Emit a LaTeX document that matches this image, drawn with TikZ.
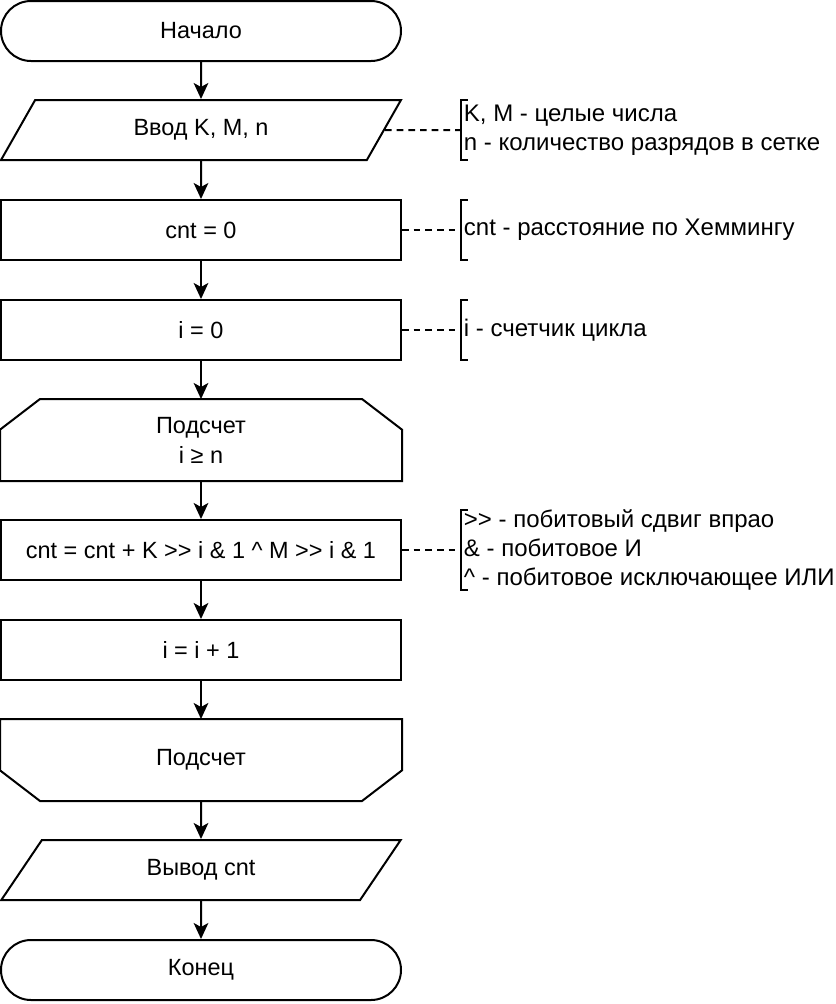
\documentclass[tikz,border=0pt]{standalone}
\usepackage{fontspec}
\setmainfont{Liberation Sans}
\usetikzlibrary{shapes.geometric,arrows.meta}

\tikzset{
	base/.style={draw,line width=1.5pt,minimum width=300pt,minimum height=45pt,inner sep=0pt,align=center,font=\fontsize{17.6}{22.5}\selectfont},
	term/.style={base,rectangle,rounded corners=22.5pt},
	io/.style={base,trapezium,trapezium stretches=true,trapezium left angle=56.31,trapezium right angle=123.69},
	proc/.style={base,rectangle},
	loopbox/.style={base,rectangle,draw=none,minimum height=60pt},
	outline/.style={line width=1.5pt,line join=miter},
	note/.style={anchor=west,inner xsep=2pt,inner ysep=0pt,minimum height=45pt,align=left,font=\fontsize{18}{21.5}\selectfont},
	arr/.style={line width=1.5pt,-{Stealth[length=12pt,width=11pt,inset=3pt]}},
	dline/.style={line width=1.5pt,dash pattern=on 5pt off 3.75pt}
}

\begin{document}
\begin{tikzpicture}[x=0.75pt,y=-0.75pt]
	\useasboundingbox (0,0) rectangle (836,1004);

	\node[term] (start) at (201,31) {Начало};
	\node[io] (input) at (201,130) {Ввод K, M, n};
	\node[proc] (cnt) at (201,230) {cnt = 0};
	\node[proc] (init) at (201,330) {i = 0};
	\node[loopbox] (loopA) at (201,440) {Подсчет\\i ≥ n};
	\node[proc] (body) at (201,550) {cnt = cnt + K >{}> i \& 1 \textasciicircum{} M >{}> i \& 1};
	\node[proc] (inc) at (201,650) {i = i + 1};
	\node[loopbox] (loopB) at (201,760) {Подсчет};
	\node[io] (output) at (201,870) {Вывод cnt};
	\node[term] (stop) at (201,970) {Конец};

	% loop limits
	\draw[outline] ([xshift=30pt]loopA.north west) -- ([xshift=-30pt]loopA.north east) -- ([yshift=-23pt]loopA.north east) -- (loopA.south east) -- (loopA.south west) -- ([yshift=-23pt]loopA.north west) -- cycle;
	\draw[outline] (loopB.north west) -- (loopB.north east) -- ([yshift=23pt]loopB.south east) -- ([xshift=-30pt]loopB.south east) -- ([xshift=30pt]loopB.south west) -- ([yshift=23pt]loopB.south west) -- cycle;

	\draw[arr] (start) -- (input);
	\draw[arr] (input) -- (cnt);
	\draw[arr] (cnt) -- (init);
	\draw[arr] (init) -- (loopA);
	\draw[arr] (loopA) -- (body);
	\draw[arr] (body) -- (inc);
	\draw[arr] (inc) -- (loopB);
	\draw[arr] (loopB) -- (output);
	\draw[arr] (output) -- (stop);

	% comments
	\node[note] (noteIn) at (461,130) {K, M - целые числа\\n - количество разрядов в сетке};
	\node[note] (noteCnt) at (461,230) {cnt - расстояние по Хеммингу};
	\node[note] (noteI) at (461,330) {i - счетчик цикла};
	\node[note,minimum height=60pt] (noteBody) at (461,550) {>{}> - побитовый сдвиг впрао\\\& - побитовое И\\\textasciicircum{} - побитовое исключающее ИЛИ};

	\draw[dline] (input.east) -- (noteIn.west);
	\draw[dline] (cnt.east) -- (noteCnt.west);
	\draw[dline] (init.east) -- (noteI.west);
	\draw[dline] (body.east) -- (noteBody.west);

	\foreach \n in {noteIn,noteCnt,noteI,noteBody}
		\draw[line width=1.5pt] ([xshift=5pt]\n.north west) -- (\n.north west) -- (\n.south west) -- ([xshift=5pt]\n.south west);
\end{tikzpicture}
\end{document}
